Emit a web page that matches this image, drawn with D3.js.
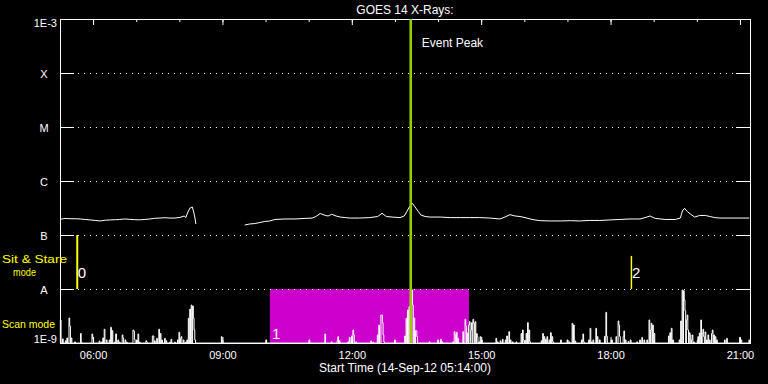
<!DOCTYPE html>
<html>

<head>
    <script src="https://d3js.org/d3.v7.min.js"></script>
    <style>
        body { margin: 0; background: #000; }
        text { font-family: "Liberation Sans", Arial, sans-serif; fill: #fff; }
    </style>
</head>

<body>
    <svg id="chart" width="768" height="384"></svg>
    <script>
        // times are minutes after the start time, 14-Sep-12 05:14:00 UT
        var startTime = new Date(Date.UTC(2012, 8, 14, 5, 14, 0));
        var endTime = new Date(Date.UTC(2012, 8, 14, 21, 14, 0));

        // flux levels on the left axis
        var fluxLevels = [1e-9, 1e-8, 1e-7, 1e-6, 1e-5, 1e-4, 1e-3];
        var fluxLabels = ["1E-9", "A", "B", "C", "M", "X", "1E-3"];

        // long channel [minute, flux in 1e-7 W/m2], null = data gap
        var longSamples = [
            [0, 1.95], [7, 2.03], [14, 2.0], [21, 2.0], [28, 1.98], [35, 1.94], [42, 1.90], [49, 1.86],
            [56, 1.82], [63, 1.88], [70, 1.90], [77, 1.92], [83, 1.94], [90, 1.98], [97, 1.95], [104, 1.92],
            [111, 1.91], [118, 1.94], [125, 1.98], [132, 2.04], [139, 2.06], [146, 2.09], [153, 2.06], [160, 2.06],
            [167, 2.12], [173, 2.25], [175, 2.10], [178, 2.67], [181, 3.16], [184, 3.30], [186, 2.67], [188, 1.98],
            [189, 1.60], [190, null],
            [257, 1.53], [264, 1.60], [271, 1.63], [278, 1.70], [285, 1.78], [292, 1.82], [299, 1.94], [313, 1.98],
            [327, 1.98], [341, 2.03], [351, 2.06], [356, 2.20], [362, 2.50], [369, 2.30], [373, 2.25], [378, 2.42],
            [384, 2.25], [390, 2.15], [397, 2.10], [403, 2.06], [417, 2.06], [431, 2.10], [442, 2.20], [448, 2.53],
            [454, 2.20], [462, 2.15], [473, 2.10], [479, 2.25], [483, 2.78], [486, 3.30], [490, 3.88], [494, 3.30],
            [498, 2.78], [502, 2.35], [508, 2.20], [515, 2.15], [529, 2.15], [543, 2.10], [557, 2.10], [570, 2.10],
            [584, 2.10], [598, 2.06], [612, 1.98], [619, 2.15], [626, 2.38], [633, 2.25], [640, 2.20], [647, 2.10],
            [654, 1.98], [661, 1.90], [668, 1.84], [682, 1.82], [696, 1.82], [710, 1.84], [723, 1.82], [737, 1.86],
            [751, 1.86], [765, 1.90], [779, 1.94], [793, 1.98], [807, 1.98], [814, 2.10], [821, 2.25], [828, 2.03],
            [842, 1.94], [856, 1.94], [863, 2.06], [866, 2.78], [869, 3.13], [873, 2.70], [877, 2.45], [883, 2.15],
            [890, 2.30], [898, 2.30], [904, 2.20], [911, 2.10], [918, 2.06], [932, 2.06], [946, 2.06], [959, 2.06]
        ];

        // short channel [minute, flux in 1e-9 W/m2]; minutes not listed are below the 1E-9 floor
        var shortSamples = [
            [1, 2.67], [4, 1.19], [8, 1.1], [10, 1.24], [13, 2.9], [14, 2.06], [16, 1.24], [21, 1.05], [29, 1.5], [30, 1.04],
            [45, 1.47], [46, 1.19], [55, 1.09], [58, 1.04], [60, 1.24], [62, 1.8], [65, 1.14], [69, 1.14], [71, 1.95], [73, 1.69],
            [76, 1.04], [78, 1.47], [81, 1.14], [83, 1.04], [87, 1.41], [88, 1.24], [91, 1.14], [93, 1.04], [102, 1.74], [103, 1.67],
            [104, 1.17], [107, 1.14], [109, 1.47], [111, 1.04], [120, 1.1], [121, 1.04], [129, 1.35], [130, 1.35], [132, 1.1], [135, 1.22],
            [138, 1.8], [140, 1.5], [142, 1.14], [146, 1.22], [148, 1.1], [153, 1.04], [155, 1.17], [160, 1.04], [164, 1.14], [166, 1.58],
            [168, 1.22], [169, 1.31], [172, 1.14], [175, 1.04], [177, 1.14], [179, 2.87], [181, 4.25], [183, 5.05], [185, 4.84], [186, 2.9],
            [187, 1.74], [188, 1.14], [225, 1.31],
            [287, 1.14], [347, 1.14], [368, 1.03], [369, 1.47], [378, 1.05], [386, 1.1], [387, 1.31], [389, 1.1], [401, 1.05], [403, 1.27],
            [406, 1.35], [408, 1.74], [409, 1.41], [412, 1.05], [433, 1.09], [436, 1.04], [442, 1.41], [444, 2.15], [447, 3.3], [448, 3.3],
            [449, 2.38], [450, 1.41], [451, 1.05], [466, 1.14], [480, 1.35], [482, 2.87], [484, 4.08], [486, 4.7], [488, 6.8], [490, 9.58],
            [491, 5.05], [493, 2.9], [495, 1.69], [496, 1.69], [497, 1.31], [514, 1.05], [526, 1.14], [530, 1.17], [532, 1.05], [547, 1.05],
            [549, 1.62], [550, 1.41], [552, 1.58], [554, 1.22], [561, 1.62], [564, 2.75], [565, 2.06], [567, 1.53], [569, 2.15], [570, 2.48],
            [572, 1.74], [573, 2.38], [575, 2.75], [576, 2.32], [578, 2.48], [580, 1.5], [581, 1.31], [583, 1.05], [585, 1.31], [587, 1.14],
            [607, 1.22], [609, 1.05], [613, 1.1], [616, 1.17], [620, 1.14], [622, 1.35], [625, 1.62], [627, 1.14], [630, 1.05], [635, 1.05],
            [642, 1.5], [644, 1.74], [645, 1.14], [647, 1.1], [649, 1.5], [651, 2.38], [653, 1.74], [654, 1.05], [670, 1.1], [672, 1.5],
            [674, 1.31], [676, 1.17], [678, 1.31], [681, 1.14], [683, 1.55], [685, 1.31], [686, 1.05], [697, 1.14], [706, 1.14], [709, 1.05],
            [713, 2.32], [715, 2.15], [717, 1.09], [726, 1.14], [728, 1.47], [729, 1.05], [736, 1.14], [738, 1.87], [740, 1.05], [742, 1.14],
            [746, 1.87], [748, 1.31], [751, 1.14], [758, 1.33], [760, 3.7], [761, 1.33], [768, 1.14], [774, 1.31], [777, 2.56], [778, 2.15],
            [779, 1.33], [784, 1.31], [785, 1.67], [787, 1.14], [791, 1.07], [794, 1.14], [803, 1.05], [807, 1.14], [810, 1.27], [813, 1.14],
            [817, 1.14], [820, 2.67], [822, 1.74], [823, 2.32], [825, 2.15], [827, 1.5], [847, 1.35], [849, 1.55], [851, 1.87], [853, 1.14],
            [862, 1.14], [864, 2.56], [866, 9.58], [868, 9.3], [869, 6.26], [870, 3.96], [872, 2.67], [873, 3.3], [874, 1.74], [876, 1.55],
            [877, 1.41], [879, 1.14], [880, 1.41], [882, 1.05], [888, 1.31], [890, 1.53], [892, 2.67], [894, 1.5], [895, 1.8], [896, 1.31],
            [898, 1.6], [900, 1.14], [902, 1.41], [904, 1.14], [907, 1.5], [908, 1.74], [910, 1.41], [912, 1.31], [914, 1.14], [925, 1.14],
            [928, 1.22], [946, 1.27], [948, 1.14], [959, 1.14]
        ];

        // observation markers
        var eventPeak = 488;                       // 13:22
        var sitStareTimes = [24, 795];             // 05:38, 18:29
        var sitStareTop = [1e-7, 4.1e-8];
        var scanStart = 292, scanEnd = 569;        // 10:06 - 14:43
        var markerLabels = ["0", "1", "2"];

        var svg = d3.select("#chart");
        var plot = { left: 60, right: 750, top: 19, bottom: 343 };

        function atMinute(m) { return new Date(startTime.getTime() + m * 60000); }

        var x = d3.scaleUtc().domain([startTime, endTime]).range([plot.left, plot.right]);
        var y = d3.scaleLog().domain([1e-9, 1e-3]).range([plot.bottom, plot.top]).clamp(true);

        svg.append("rect").attr("width", 768).attr("height", 384).attr("fill", "#000");

        // scan mode block
        svg.append("rect")
            .attr("x", x(atMinute(scanStart)))
            .attr("y", y(1e-8))
            .attr("width", x(atMinute(scanEnd)) - x(atMinute(scanStart)))
            .attr("height", y(1e-9) - y(1e-8))
            .attr("fill", "#cc00cc");

        // dotted level lines
        svg.selectAll(".grid")
            .data(fluxLevels.slice(1, 6))
            .enter()
            .append("line")
            .attr("x1", plot.left + 18).attr("x2", plot.right - 14)
            .attr("y1", d => Math.round(y(d)) + 0.5).attr("y2", d => Math.round(y(d)) + 0.5)
            .attr("stroke", "#fff")
            .attr("stroke-dasharray", "1,5");

        // frame
        svg.append("rect")
            .attr("x", plot.left + 0.5).attr("y", plot.top + 0.5)
            .attr("width", plot.right - plot.left).attr("height", plot.bottom - plot.top)
            .attr("fill", "none").attr("stroke", "#fff");

        function styleAxis(g) {
            g.select(".domain").remove();
            g.selectAll("line").attr("stroke", "#fff");
        }

        // time ticks, top and bottom, pointing inward
        svg.append("g").attr("transform", "translate(0," + plot.top + ")")
            .call(d3.axisBottom(x).ticks(d3.utcHour.every(1)).tickSize(3).tickFormat(""))
            .call(styleAxis);
        svg.append("g").attr("transform", "translate(0," + plot.top + ")")
            .call(d3.axisBottom(x).ticks(d3.utcHour.every(3)).tickSize(6).tickFormat(""))
            .call(styleAxis);
        svg.append("g").attr("transform", "translate(0," + plot.bottom + ")")
            .call(d3.axisTop(x).ticks(d3.utcHour.every(1)).tickSize(3).tickFormat(""))
            .call(styleAxis);
        svg.append("g").attr("transform", "translate(0," + plot.bottom + ")")
            .call(d3.axisTop(x).ticks(d3.utcHour.every(3)).tickSize(6).tickFormat(""))
            .call(styleAxis);

        // time labels
        var xLabels = svg.append("g").attr("transform", "translate(0," + plot.bottom + ")")
            .call(d3.axisBottom(x).ticks(d3.utcHour.every(3)).tickSize(0).tickPadding(8)
                .tickFormat(d3.utcFormat("%H:%M")))
            .call(styleAxis);
        xLabels.selectAll("text").attr("font-size", 11).attr("fill", "#fff");
        xLabels.attr("font-family", null).attr("font-size", null);

        // flux ticks left and right
        svg.append("g").attr("transform", "translate(" + plot.left + ",0)")
            .call(d3.axisRight(y).tickValues(fluxLevels.slice(1, 6)).tickSize(14).tickFormat(""))
            .call(styleAxis);
        svg.append("g").attr("transform", "translate(" + plot.right + ",0)")
            .call(d3.axisLeft(y).tickValues(fluxLevels.slice(1, 6)).tickSize(14).tickFormat(""))
            .call(styleAxis);

        svg.selectAll(".ylab")
            .data(fluxLevels)
            .enter()
            .append("text")
            .attr("x", (d, i) => (i == 0 || i == 6) ? 57 : 44)
            .attr("y", (d, i) => i == 0 ? y(d) : (i == 6 ? y(d) + 8 : y(d) + 4.5))
            .attr("text-anchor", (d, i) => (i == 0 || i == 6) ? "end" : "middle")
            .attr("font-size", 11)
            .text((d, i) => fluxLabels[i]);

        // long channel
        var longLine = d3.line()
            .defined(d => d[1] != null)
            .x(d => x(atMinute(d[0])))
            .y(d => y(d[1] * 1e-7));
        svg.append("path")
            .datum(longSamples)
            .attr("d", longLine)
            .attr("fill", "none")
            .attr("stroke", "#fff")
            .attr("stroke-width", 1);

        // short channel, one value per minute, clipped at the floor
        var shortByMinute = new Map(shortSamples.map(d => [d[0], d[1] * 1e-9]));
        var shortSeries = d3.range(0, 961).map(m => [m, shortByMinute.has(m) ? shortByMinute.get(m) : 1e-9]);
        var shortLine = d3.line()
            .curve(d3.curveStep)
            .x(d => x(atMinute(d[0])))
            .y(d => y(d[1]));
        svg.append("path")
            .datum(shortSeries)
            .attr("d", shortLine)
            .attr("fill", "none")
            .attr("stroke", "#fff")
            .attr("stroke-width", 1);

        // sit & stare markers
        svg.selectAll(".sit")
            .data(sitStareTimes)
            .enter()
            .append("line")
            .attr("x1", d => x(atMinute(d))).attr("x2", d => x(atMinute(d)))
            .attr("y1", (d, i) => y(sitStareTop[i])).attr("y2", y(1e-8))
            .attr("stroke", "#ffff00")
            .attr("stroke-width", (d, i) => i == 0 ? 2 : 1.5);

        var markerTimes = [sitStareTimes[0], scanStart, sitStareTimes[1]];
        svg.selectAll(".mlab")
            .data(markerTimes)
            .enter()
            .append("text")
            .attr("x", (d, i) => x(atMinute(d)) + (i == 1 ? 2 : 0.5))
            .attr("y", (d, i) => i == 1 ? 339 : 277.5)
            .attr("font-size", 15)
            .text((d, i) => markerLabels[i]);

        // event peak
        svg.append("line")
            .attr("x1", x(atMinute(eventPeak))).attr("x2", x(atMinute(eventPeak)))
            .attr("y1", plot.top).attr("y2", plot.bottom)
            .attr("stroke", "#99cc00")
            .attr("stroke-width", 2.6);
        svg.append("text")
            .attr("x", x(atMinute(eventPeak)) + 11)
            .attr("y", 47)
            .attr("font-size", 12)
            .text("Event Peak");

        // mode labels
        svg.append("text").attr("x", 2).attr("y", 262.5).attr("font-size", 11)
            .attr("textLength", 65).attr("lengthAdjust", "spacingAndGlyphs")
            .style("fill", "#ffff00").text("Sit & Stare");
        svg.append("text").attr("x", 13).attr("y", 276).attr("font-size", 11)
            .attr("textLength", 23).attr("lengthAdjust", "spacingAndGlyphs")
            .style("fill", "#ffff00").text("mode");
        svg.append("text").attr("x", 2).attr("y", 328).attr("font-size", 11)
            .attr("textLength", 53).attr("lengthAdjust", "spacingAndGlyphs")
            .style("fill", "#ffff00").text("Scan mode");

        // titles
        svg.append("text")
            .attr("x", (plot.left + plot.right) / 2).attr("y", 14)
            .attr("text-anchor", "middle").attr("font-size", 12)
            .text("GOES 14 X-Rays:");
        svg.append("text")
            .attr("x", (plot.left + plot.right) / 2).attr("y", 372)
            .attr("text-anchor", "middle").attr("font-size", 12)
            .text("Start Time (14-Sep-12 05:14:00)");
    </script>
</body>

</html>
